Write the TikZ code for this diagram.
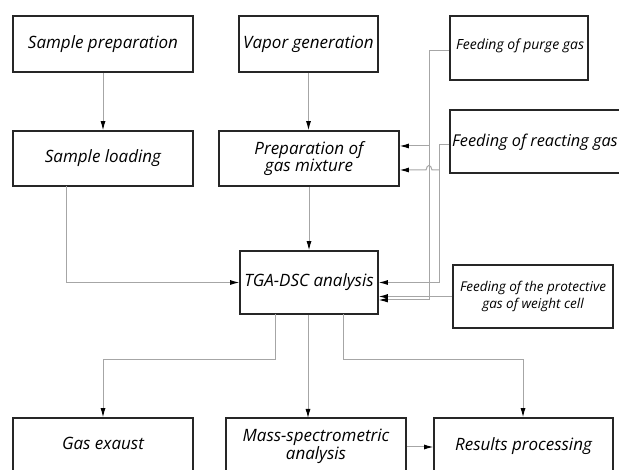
\documentclass[tikz,border=0pt]{standalone}
\usepackage{fontspec}
\setmainfont{Open Sans}
\usetikzlibrary{arrows.meta,calc}
\begin{document}
\begin{tikzpicture}[x=1pt,y=-1pt,
  box/.style={draw=black!85,line width=1.6pt,rectangle,inner sep=0pt,align=center,font=\fontsize{17}{15}\selectfont\itshape},
  lbl/.style={inner sep=0pt,align=center,font=\fontsize{17}{15}\selectfont\itshape},
  conn/.style={draw=black!35,line width=1pt},
  arr/.style={conn,-{Latex[length=9pt,width=5pt,color=black]}}]
\useasboundingbox (0,0) rectangle (619,470);
\clip (0,0) rectangle (619,470);
% boxes
\node[box,minimum width=180pt,minimum height=56pt] (sprep) at (103,44) {Sample preparation};
\node[box,minimum width=139pt,minimum height=56pt] (vapor) at (308.5,44) {Vapor generation};
\node[box,minimum width=138pt,minimum height=64pt] (purge) at (519,48) {};
\node[lbl,anchor=west,font=\fontsize{14}{15}\selectfont\itshape] (purget) at (456,46) {Feeding of purge gas};
\node[box,minimum width=190pt,minimum height=63pt] (react) at (545,141.5) {};
\node[lbl,anchor=west,font=\fontsize{16.3}{15}\selectfont\itshape] (reactt) at (452,142) {Feeding of reacting gas};
\node[box,minimum width=180pt,minimum height=55pt] (sload) at (103,158.5) {Sample loading};
\node[box,minimum width=180pt,minimum height=55pt] (prep) at (309,158.5) {Preparation of\\gas mixture};
\node[box,minimum width=138pt,minimum height=63pt] (tga) at (309,282.5) {TGA-DSC analysis};
\node[box,minimum width=160pt,minimum height=63pt,font=\fontsize{13.5}{17}\selectfont\itshape] (prot) at (533,296.5) {Feeding of the protective\\gas of weight cell};
\node[box,minimum width=180pt,minimum height=90pt] (gas) at (103,463) {};
\node[lbl] (gast) at (103,443) {Gas exaust};
\node[box,minimum width=180pt,minimum height=90pt] (mass) at (316,463) {};
\node[lbl] (masst) at (316,446) {Mass-spectrometric\\analysis};
\node[box,minimum width=179pt,minimum height=90pt] (res) at (523.5,463) {};
\node[lbl] (rest) at (523.5,446) {Results processing};
% coordinates
\coordinate (pj) at (429,51);
\coordinate (rj) at (439,145);
\coordinate (lo) at (66,186);
\coordinate (t1) at (275,314);
\coordinate (t3) at (343,314);
\coordinate (g1) at (103,360);
\coordinate (r1) at (523,360);
% connectors
\draw[arr] (sprep.south) -- (sload.north);
\draw[arr] (vapor.south) -- (vapor.south |- prep.north);
\draw[arr] (prep.south) -- (tga.north);
\draw[arr] (lo) |- (tga.west);
\draw[conn] (purge.west |- pj) -- (pj);
\draw[arr] (pj) |- ([yshift=-17.5pt]tga.east);
\draw[arr] (pj |- 0,146) -- (prep.east |- 0,146);
\draw[conn] (react.west |- rj) -- (rj);
\draw[arr] (rj) |- (tga.east);
\draw[arr] (rj |- 0,170) -- (432,170) .. controls (431,164) and (427,164) .. (426,170) -- (prep.east |- 0,170);
\draw[arr] (prot.west) -- (prot.west -| tga.east);
\draw[arr] (t1) |- (g1) -- (g1 |- gas.north);
\draw[arr] (tga.south -| 308,0) -- (308,418);
\draw[arr] (t3) |- (r1) -- (r1 |- res.north);
\draw[arr] (mass.east |- 0,447) -- (res.west |- 0,447);
\end{tikzpicture}
\end{document}
